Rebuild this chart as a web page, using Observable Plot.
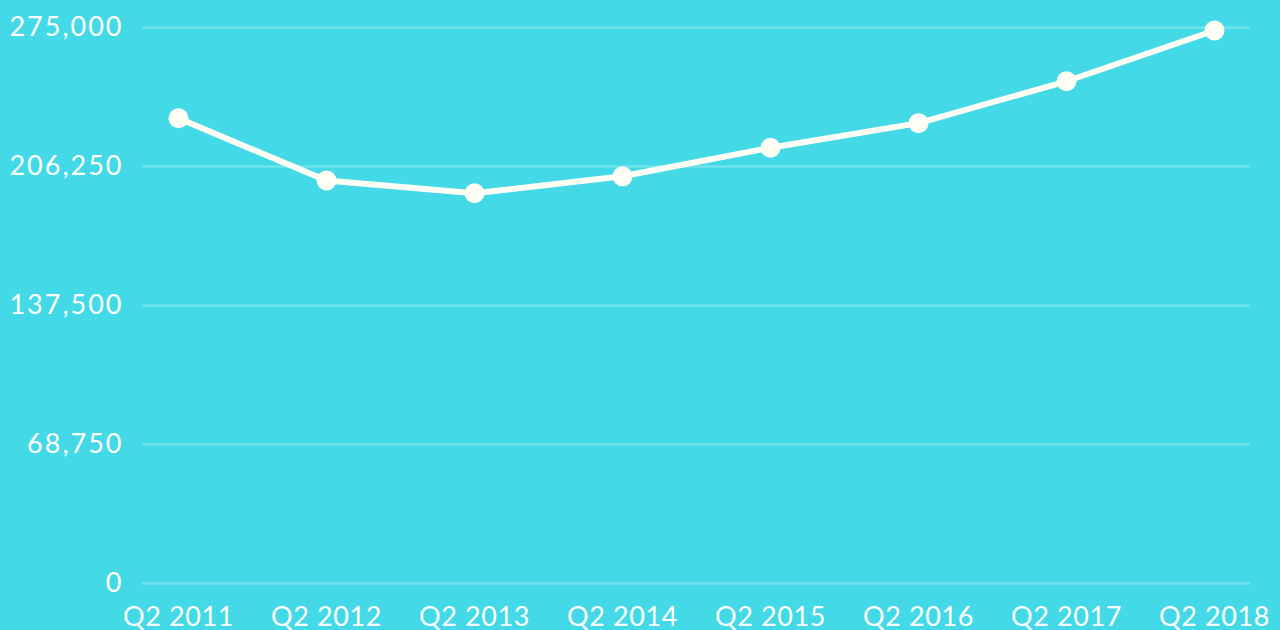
<!DOCTYPE html>
<html><head><meta charset="utf-8">
<script src="https://cdn.jsdelivr.net/npm/d3@7"></script>
<script src="https://cdn.jsdelivr.net/npm/@observablehq/plot@0.6"></script>
<style>
html,body{margin:0;padding:0;background:#43d9e6;overflow:hidden}
g[aria-label="y-axis tick label"]{letter-spacing:2px}
g[aria-label="x-axis tick label"]{letter-spacing:0.6px}
</style>
</head><body><div id="chart"></div>
<script>
const quarters = ["Q2 2011","Q2 2012","Q2 2013","Q2 2014","Q2 2015","Q2 2016","Q2 2017","Q2 2018"];
const values = [230100, 199300, 193000, 201400, 215500, 227700, 248400, 273500];
const yTicks = [0, 68750, 137500, 206250, 275000];
const data = quarters.map((q, i) => ({q, v: values[i]}));
const chart = Plot.plot({
  width: 1280, height: 630,
  marginTop: 27, marginBottom: 47, marginLeft: 142, marginRight: 30,
  style: {background: "#43d9e6", color: "#ffffff", fontFamily: "Lato, sans-serif", fontSize: "27px", overflow: "visible"},
  x: {type: "point", domain: quarters, padding: 0.24, label: null},
  y: {domain: [0, 275000], label: null},
  marks: [
    Plot.ruleY(yTicks, {stroke: "#ffffff", strokeOpacity: 0.25, strokeWidth: 2.5}),
    Plot.axisY(yTicks, {tickSize: 0, tickPadding: 19, tickFormat: d3.format(","), label: null, fill: "#ffffff"}),
    Plot.axisX({tickSize: 0, tickPadding: 23, label: null, fill: "#ffffff"}),
    Plot.line(data, {x: "q", y: "v", stroke: "#fffef5", strokeWidth: 6}),
    Plot.dot(data, {x: "q", y: "v", r: 10, fill: "#fffef5"})
  ]
});
document.getElementById("chart").append(chart);
</script>
</body></html>
